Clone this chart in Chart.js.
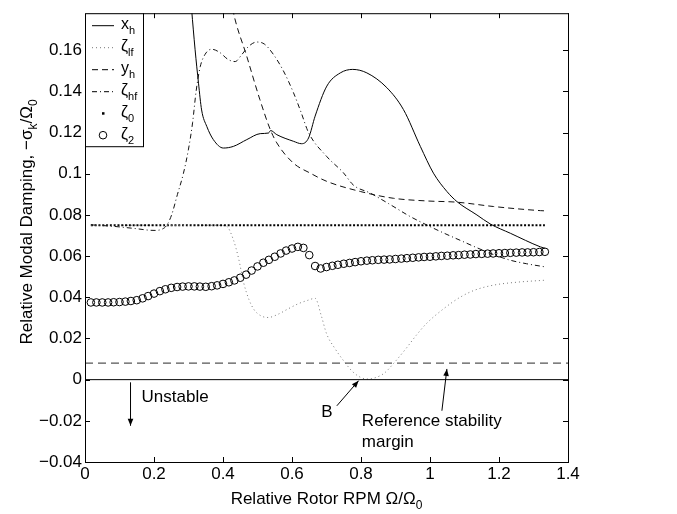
<!DOCTYPE html>
<html>
<head>
<meta charset="utf-8">
<script src="https://cdn.jsdelivr.net/npm/chart.js@4.4.0/dist/chart.umd.min.js"></script>
<style>
html,body{margin:0;padding:0;background:#fff}
#wrap{width:677px;height:514px}
</style>
</head>
<body>
<div id="wrap"><canvas id="modal" width="677" height="514"></canvas></div>
<script>
/* Relative modal damping vs rotor RPM */
const xTicks=[0,0.2,0.4,0.6,0.8,1,1.2,1.4];
const yTicks=[-0.04,-0.02,0,0.02,0.04,0.06,0.08,0.1,0.12,0.14,0.16];

// x_h (solid)
const xhX=[0.300,0.309,0.319,0.329,0.338,0.353,0.372,0.401,0.43,0.469,0.508,0.532,0.538,0.556,0.604,0.628,0.648,0.667,0.701,0.74,0.776,0.817,0.875,0.923,0.972,1.01,1.049,1.078,1.136,1.175,1.233,1.32,1.333];
const xhY=[0.200,0.180,0.1605,0.144,0.131,0.123,0.1166,0.1125,0.1133,0.1166,0.1195,0.1198,0.121,0.119,0.1158,0.1146,0.1174,0.128,0.1426,0.149,0.1507,0.149,0.1418,0.1312,0.1133,0.1003,0.0914,0.0865,0.080,0.0756,0.0711,0.0645,0.0638];
// zeta_lf (dotted)
const zlfX=[0.017,0.1,0.2,0.3,0.38,0.41,0.43,0.445,0.46,0.475,0.49,0.51,0.531,0.56,0.59,0.62,0.645,0.667,0.685,0.70,0.725,0.749,0.775,0.80,0.82,0.846,0.87,0.894,0.93,0.96,0.99,1.04,1.087,1.13,1.184,1.25,1.333];
const zlfY=[0.075,0.075,0.075,0.075,0.075,0.0745,0.068,0.059,0.047,0.039,0.034,0.031,0.0302,0.0318,0.0345,0.037,0.0385,0.0395,0.031,0.0224,0.015,0.0093,0.004,0.001,0.0003,0.0012,0.0035,0.0078,0.015,0.0215,0.0273,0.0345,0.040,0.0435,0.0459,0.0473,0.0483];
// y_h (dashed)
const yhX=[0.40,0.428,0.469,0.507,0.537,0.556,0.604,0.653,0.701,0.798,0.894,0.991,1.078,1.184,1.32,1.333];
const yhY=[0.209,0.180,0.157,0.136,0.1215,0.115,0.1052,0.1003,0.0963,0.0914,0.0881,0.0868,0.0862,0.0841,0.0821,0.082];
// zeta_hf (dash-dot)
const zhfX=[0.017,0.08,0.14,0.2,0.222,0.237,0.251,0.268,0.285,0.3,0.312,0.322,0.334,0.348,0.367,0.39,0.415,0.435,0.455,0.475,0.498,0.52,0.546,0.575,0.604,0.626,0.648,0.70,0.749,0.778,0.827,0.88,0.943,0.991,1.04,1.09,1.137,1.185,1.233,1.28,1.333];
const zhfY=[0.0752,0.0745,0.0735,0.0725,0.073,0.075,0.080,0.090,0.100,0.112,0.125,0.140,0.152,0.158,0.1605,0.159,0.1555,0.1545,0.158,0.162,0.164,0.163,0.158,0.150,0.1395,0.130,0.120,0.1085,0.1005,0.0945,0.0906,0.0855,0.0792,0.0751,0.0712,0.0675,0.064,0.0607,0.058,0.0563,0.0548];
// zeta_0 (dots)
const z0X=[0.017,1.333];
const z0Y=[0.075,0.075];
// zeta_2 (circles)
const z2X=[0.017,0.033,0.050,0.067,0.083,0.100,0.117,0.133,0.150,0.167,0.183,0.200,0.217,0.233,0.250,0.267,0.283,0.300,0.317,0.333,
  0.350,0.367,0.383,0.400,0.417,0.433,0.450,0.467,0.483,0.500,0.517,0.533,0.550,0.567,0.583,0.600,0.617,0.633,0.650,0.667,
  0.683,0.700,0.717,0.733,0.750,0.767,0.783,0.800,0.817,0.833,0.850,0.867,0.883,0.900,0.917,0.933,0.950,0.967,0.983,1.000,
  1.017,1.033,1.050,1.067,1.083,1.100,1.117,1.133,1.150,1.167,1.183,1.200,1.217,1.233,1.250,1.267,1.283,1.300,1.317,1.333];
const z2Y=[0.0375,0.0375,0.0375,0.0375,0.0376,0.0377,0.0379,0.0382,0.0386,0.0395,0.0406,0.0418,0.0430,0.0439,0.0446,0.0450,0.0452,0.0453,0.0453,0.0452,
  0.0451,0.0454,0.0458,0.0465,0.0473,0.0482,0.0495,0.0510,0.0530,0.0550,0.0568,0.0582,0.0597,0.0613,0.0627,0.0637,0.0645,0.0640,0.0605,0.0552,
  0.0540,0.0547,0.0553,0.0558,0.0563,0.0567,0.0571,0.0575,0.0578,0.0580,0.0582,0.0583,0.0584,0.0586,0.0588,0.0590,0.0592,0.0594,0.0596,0.0597,
  0.0599,0.0601,0.0602,0.0604,0.0605,0.0607,0.0608,0.0610,0.0611,0.0612,0.0613,0.0614,0.0615,0.0616,0.0617,0.0618,0.0618,0.0619,0.0620,0.0621];
// reference lines
const refX=[0,1.4];
const zeroY=[0,0];
const marginY=[0.008,0.008];

const legMain=['x','ζ','y','ζ','ζ','ζ'];
const legSub=['h','lf','h','hf','0','2'];

function pts(xs,ys){return xs.map(function(v,i){return{x:v,y:ys[i]};});}
function fmt(v){if(Math.abs(v)<1e-9)return'0';return(v<0?'\u2212':'')+String(+Math.abs(v).toFixed(2));}

const FONT='"Liberation Sans", Arial, Helvetica, sans-serif';

function subText(ctx,main,sub,x,y,size,subSize,drop){
  ctx.font=size+'px '+FONT;ctx.fillText(main,x,y);
  const w=ctx.measureText(main).width;
  ctx.font=subSize+'px '+FONT;ctx.fillText(sub,x+w,y+drop);
  return w+ctx.measureText(sub).width;
}
function arrow(ctx,x1,y1,x2,y2){
  ctx.beginPath();ctx.moveTo(x1,y1);ctx.lineTo(x2,y2);ctx.stroke();
  const a=Math.atan2(y2-y1,x2-x1),L=7,W=2.8;
  ctx.beginPath();ctx.moveTo(x2,y2);
  ctx.lineTo(x2-L*Math.cos(a)+W*Math.sin(a),y2-L*Math.sin(a)-W*Math.cos(a));
  ctx.lineTo(x2-L*Math.cos(a)-W*Math.sin(a),y2-L*Math.sin(a)+W*Math.cos(a));
  ctx.closePath();ctx.fill();
}

const frame={id:'frame',afterDraw:function(c){
  const ctx=c.ctx,a=c.chartArea,sx=c.scales.x,sy=c.scales.y;
  ctx.save();
  ctx.strokeStyle='#000';ctx.fillStyle='#000';ctx.lineWidth=1;
  // box + inward ticks
  ctx.strokeRect(a.left+0.5,a.top+0.5,a.right-a.left,a.bottom-a.top);
  ctx.beginPath();
  xTicks.forEach(function(v){const p=Math.round(sx.getPixelForValue(v))+0.5;
    ctx.moveTo(p,a.bottom);ctx.lineTo(p,a.bottom-5);ctx.moveTo(p,a.top);ctx.lineTo(p,a.top+5);});
  yTicks.forEach(function(v){const p=Math.round(sy.getPixelForValue(v))+0.5;
    ctx.moveTo(a.left,p);ctx.lineTo(a.left+5,p);ctx.moveTo(a.right,p);ctx.lineTo(a.right-5,p);});
  ctx.stroke();
  // axis titles
  ctx.textBaseline='alphabetic';ctx.textAlign='left';
  ctx.font='17px '+FONT;
  let w=ctx.measureText('Relative Rotor RPM \u03a9/\u03a9').width;ctx.font='12px '+FONT;w+=ctx.measureText('0').width;
  subText(ctx,'Relative Rotor RPM \u03a9/\u03a9','0',(a.left+a.right)/2-w/2,504,17,12,5);
  ctx.save();ctx.translate(32,222);ctx.rotate(-Math.PI/2);
  ctx.font='17px '+FONT;
  const t1='Relative Modal Damping, \u2212\u03c3',t2='/\u03a9';
  let tw=ctx.measureText(t1).width+ctx.measureText(t2).width;ctx.font='12px '+FONT;tw+=ctx.measureText('k').width+ctx.measureText('0').width;
  let xx=-tw/2;
  xx+=subText(ctx,t1,'k',xx,0,17,12,5);
  subText(ctx,t2,'0',xx,0,17,12,5);
  ctx.restore();
  // legend
  const lx=a.left,ly=a.top,lw=58,lh=133;
  ctx.fillStyle='#fff';ctx.fillRect(lx,ly,lw,lh);ctx.strokeRect(lx+0.5,ly+0.5,lw,lh);
  ctx.fillStyle='#000';
  const x1=lx+7,x2=lx+29,tx=lx+36;
  for(let k=0;k<6;k++){
    const yy=ly+12+22*k;
    ctx.save();
    if(k===0||k===2||k===3){
      ctx.strokeStyle='#000';ctx.lineWidth=1;
      ctx.setLineDash(k===0?[]:(k===2?[6,4]:[5,3,1,3]));
      ctx.beginPath();ctx.moveTo(x1,yy+0.5);ctx.lineTo(x2,yy+0.5);ctx.stroke();
    }else if(k===1){
      ctx.strokeStyle='#777';ctx.setLineDash([1,3]);
      ctx.beginPath();ctx.moveTo(x1,yy+0.5);ctx.lineTo(x2,yy+0.5);ctx.stroke();
    }else if(k===4){
      ctx.fillRect((x1+x2)/2-1,yy-1,2.5,2.5);
    }else{
      ctx.beginPath();ctx.arc((x1+x2)/2,yy,3.8,0,Math.PI*2);ctx.stroke();
    }
    ctx.restore();
    subText(ctx,legMain[k],legSub[k],tx,yy+4,16,11,5);
  }
  // annotations
  function P(x,y){return[sx.getPixelForValue(x),sy.getPixelForValue(y)];}
  ctx.lineWidth=1;
  let p=P(0.1305,-0.0013),q=P(0.1305,-0.0224);arrow(ctx,p[0]+0.5,p[1],q[0]+0.5,q[1]);
  p=P(0.730,-0.0127);q=P(0.793,-0.0005);arrow(ctx,p[0],p[1],q[0],q[1]);
  p=P(1.0345,-0.0151);q=P(1.049,0.0052);arrow(ctx,p[0],p[1],q[0],q[1]);
  ctx.font='17px '+FONT;ctx.textBaseline='middle';
  p=P(0.164,-0.0088);ctx.fillText('Unstable',p[0],p[1]);
  ctx.textAlign='center';p=P(0.701,-0.016);ctx.fillText('B',p[0],p[1]);
  ctx.textAlign='left';
  p=P(0.8025,-0.020);ctx.fillText('Reference stability',p[0],p[1]);
  p=P(0.8025,-0.0302);ctx.fillText('margin',p[0],p[1]);
  ctx.restore();
}};

function lineDs(data,color,dash,width){
  return{data:data,showLine:true,borderColor:color,borderWidth:width||1,borderDash:dash,pointRadius:0,
    cubicInterpolationMode:'monotone',fill:false};
}

new Chart(document.getElementById('modal'),{
  type:'scatter',
  data:{datasets:[
    lineDs(pts(refX,zeroY),'#000',[],1),
    lineDs(pts(refX,marginY),'#555',[8,5],1.3),
    lineDs(pts(xhX,xhY),'#000',[],1),
    lineDs(pts(yhX,yhY),'#111',[6,4],1),
    lineDs(pts(zhfX,zhfY),'#111',[5,3,1,3],1),
    lineDs(pts(zlfX,zlfY),'#777',[1,3],1),
    lineDs(pts(z0X,z0Y),'#000',[2,1.8],2),
    {data:pts(z2X,z2Y),showLine:false,pointRadius:3.8,pointBorderWidth:1,pointBorderColor:'#000',
      pointBackgroundColor:'rgba(0,0,0,0)',pointStyle:'circle'}
  ]},
  options:{
    responsive:false,animation:false,
    layout:{padding:{top:10,right:109,bottom:0,left:0}},
    plugins:{legend:{display:false},tooltip:{enabled:false}},
    scales:{
      x:{type:'linear',min:0,max:1.4,
        grid:{display:false,drawTicks:false},border:{display:false},
        afterBuildTicks:function(s){s.ticks=xTicks.map(function(v){return{value:v};});},
        afterFit:function(s){s.height=52;},
        ticks:{color:'#000',font:{family:FONT,size:17},padding:2,maxRotation:0,autoSkip:false,callback:function(v){return fmt(v);}}},
      y:{type:'linear',min:-0.04,max:0.178,
        grid:{display:false,drawTicks:false},border:{display:false},
        afterBuildTicks:function(s){s.ticks=yTicks.map(function(v){return{value:v};});},
        afterFit:function(s){s.width=85;},
        ticks:{color:'#000',font:{family:FONT,size:17},padding:3,autoSkip:false,callback:function(v){return fmt(v);}}}
    }
  },
  plugins:[frame]
});
</script>
</body>
</html>
